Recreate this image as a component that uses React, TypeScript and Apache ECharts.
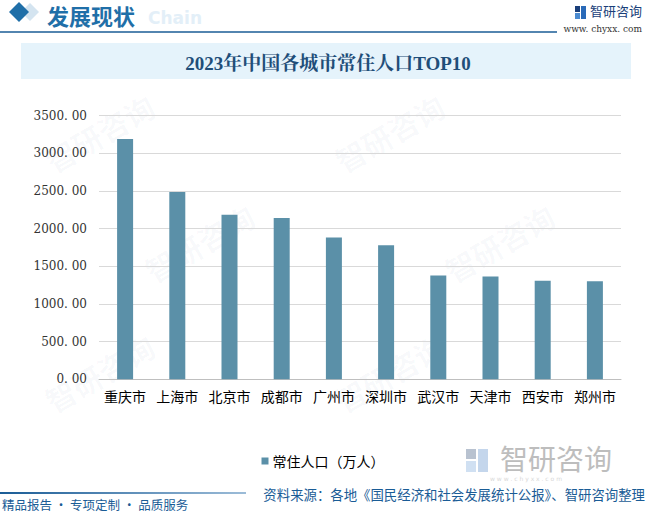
import React, { useEffect, useRef } from "react";
import * as echarts from "echarts";

const cities = ["重庆市", "上海市", "北京市", "成都市", "广州市", "深圳市", "武汉市", "天津市", "西安市", "郑州市"];
const population = [3191.43, 2487.45, 2185.8, 2140.3, 1882.7, 1779.01, 1377.4, 1364.0, 1307.82, 1300.8];
const seriesName = "常住人口（万人）";
const chartTitle = "2023年中国各城市常住人口TOP10";
const headerText = "发展现状";
const sourceText = "资料来源：各地《国民经济和社会发展统计公报》、智研咨询整理";
const sloganText = "精品报告 · 专项定制 · 品质服务";

export default function App() {
  const ref = useRef<HTMLDivElement>(null);
  useEffect(() => {
    if (!ref.current) return;
    const chart = echarts.init(ref.current, undefined, { renderer: "svg" });
    const blue = "#1a5c96";
    const wm = (x: number, y: number) => ({
      type: "text",
      x,
      y,
      rotation: Math.PI / 6,
      silent: true,
      z: -10,
      style: { text: "智研咨询", fill: "rgba(40,90,140,0.035)", font: "bold 30px 'Noto Sans CJK SC'" },
    });
    chart.setOption({
      animation: false,
      backgroundColor: "#ffffff",
      grid: { left: 99, right: 25, top: 115.7, bottom: 134.7 },
      xAxis: {
        type: "category",
        data: cities,
        axisLine: { lineStyle: { color: "#bfbfbf" } },
        axisTick: { show: false },
        axisLabel: { color: "#000", fontSize: 14, margin: 10, fontFamily: "Noto Sans CJK SC", interval: 0 },
      },
      yAxis: {
        type: "value",
        min: 0,
        max: 3500,
        interval: 500,
        axisLine: { show: false },
        axisTick: { show: false },
        splitLine: { lineStyle: { color: "#d9d9d9" } },
        axisLabel: {
          color: "#333",
          fontSize: 12,
          margin: 12,
          fontFamily: "'DejaVu Serif', serif",
          formatter: (v: number) => v.toFixed(2).replace(".", ". "),
        },
      },
      legend: {
        left: "center",
        top: 449,
        icon: "rect",
        itemWidth: 7,
        itemHeight: 7,
        itemGap: 4,
        textStyle: { fontSize: 14, color: "#000", fontFamily: "Noto Sans CJK SC", padding: [0, 0, 0, -1] },
        data: [seriesName],
      },
      series: [
        {
          type: "bar",
          name: seriesName,
          data: population,
          barWidth: 16,
          itemStyle: { color: "#5b90a8" },
        },
      ],
      graphic: [
        wm(40, 150), wm(330, 150), wm(140, 260), wm(440, 260), wm(40, 390), wm(330, 390),
        // header
        { type: "polygon", shape: { points: [[30, 3], [39, 12], [30, 21], [21, 12]] }, style: { fill: "#d4e4f0" } },
        { type: "polygon", shape: { points: [[19, 2], [29, 12], [19, 22], [9, 12]] }, style: { fill: "#1f6fa8" } },
        { type: "text", x: 148, y: 9, style: { text: "Chain", fill: "#e3eff8", font: "bold 17px 'DejaVu Sans'" } },
        {
          type: "text",
          x: 47,
          y: 15,
          style: { text: headerText, fill: "#1f6fa8", font: "bold 22px 'Noto Sans CJK SC'", textVerticalAlign: "middle" },
        },
        { type: "line", shape: { x1: 0, y1: 32, x2: 557, y2: 32 }, style: { stroke: "#1a5c96", lineWidth: 1.5 } },
        { type: "rect", shape: { x: 575, y: 6, width: 5, height: 6 }, style: { fill: "#1a3f7a" } },
        { type: "rect", shape: { x: 575, y: 13, width: 5, height: 6 }, style: { fill: "#4a8ad0" } },
        { type: "rect", shape: { x: 581, y: 6, width: 5, height: 13 }, style: { fill: "#2a6ab8" } },
        { type: "text", x: 590, y: 4, style: { text: "智研咨询", fill: "#1a3f7a", font: "13px 'Noto Sans CJK SC'" } },
        { type: "text", x: 642, y: 24, style: { text: "www. chyxx. com", fill: "#333", font: "9px 'DejaVu Serif'", textAlign: "right" } },
        // title box
        { type: "rect", shape: { x: 21, y: 43, width: 610, height: 36 }, style: { fill: "#e5f3fb" } },
        {
          type: "text",
          x: 328,
          y: 63,
          style: {
            text: chartTitle,
            fill: "#1f4e79",
            font: "bold 19px 'Liberation Serif', 'Noto Serif CJK SC', serif",
            textAlign: "center",
            textVerticalAlign: "middle",
          },
        },
        // bottom-right logo watermark
        { type: "rect", shape: { x: 466, y: 449, width: 10, height: 10 }, style: { fill: "#b8c2d0" } },
        { type: "rect", shape: { x: 466, y: 461, width: 10, height: 11 }, style: { fill: "#d0e0f2" } },
        { type: "rect", shape: { x: 478, y: 449, width: 10, height: 23 }, style: { fill: "#c4d6ec" } },
        {
          type: "text",
          x: 500,
          y: 458,
          style: { text: "智研咨询", fill: "#bdbdbd", font: "28px 'Noto Sans CJK SC'", textVerticalAlign: "middle" },
        },
        { type: "text", x: 490, y: 475, style: { text: "w w w . c h y x x . c o m", fill: "#d8d8d8", font: "6px 'DejaVu Sans'" } },
        // footer
        {
          type: "rect",
          shape: { x: 0, y: 492, width: 246, height: 2 },
          style: {
            fill: new echarts.graphic.LinearGradient(0, 0, 1, 0, [
              { offset: 0, color: "#1a5c96" },
              { offset: 1, color: "#9cbcd8" },
            ]),
          },
        },
        { type: "text", x: 2, y: 498, style: { text: sloganText, fill: blue, font: "12.5px 'Noto Sans CJK SC'" } },
        {
          type: "text",
          x: 645,
          y: 487,
          style: { text: sourceText, fill: blue, font: "13.4px 'Noto Sans CJK SC'", textAlign: "right" },
        },
      ],
    });
    return () => chart.dispose();
  }, []);
  return <div ref={ref} style={{ position: "fixed", left: 0, top: 0, width: 646, height: 514 }} />;
}
